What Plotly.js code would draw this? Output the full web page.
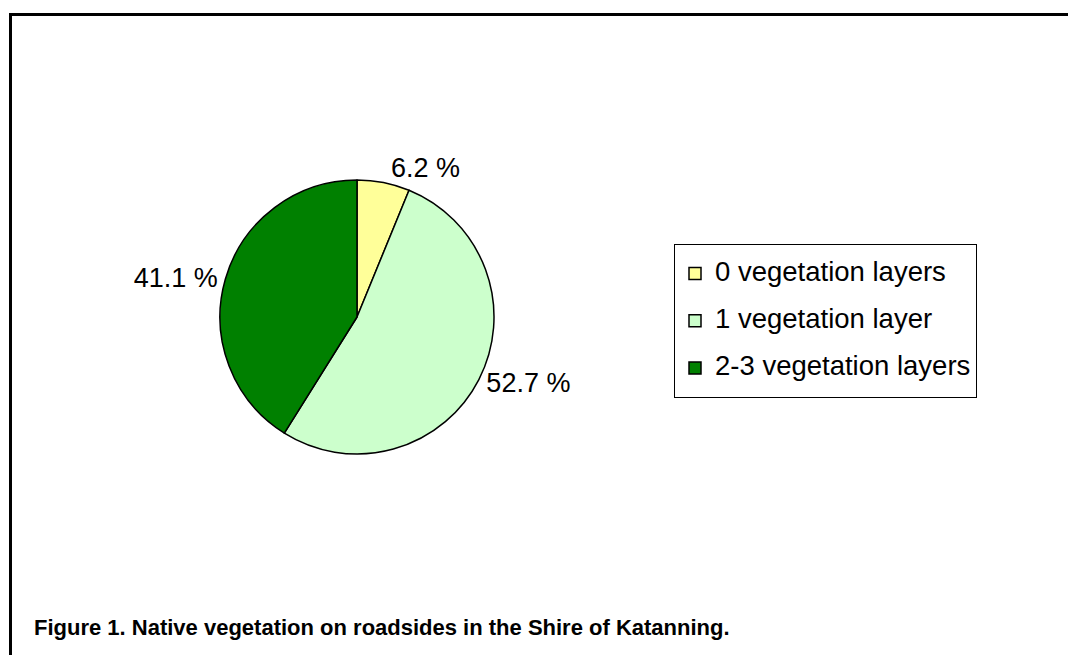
<!DOCTYPE html>
<html>
<head>
<meta charset="utf-8">
<script src="https://cdn.plot.ly/plotly-3.0.1.min.js"></script>
<style>html,body{margin:0;padding:0;background:#fff;}#chart{width:1068px;height:655px;}</style>
</head>
<body>
<div id="chart"></div>
<script>
const categories = ["0 vegetation layers", "1 vegetation layer", "2-3 vegetation layers"];
const shares = [6.2, 52.7, 41.1];
const colours = ["#FFFF99", "#CCFFCC", "#008000"];
const caption = "Figure 1. Native vegetation on roadsides in the Shire of Katanning.";

const W = 1068, H = 655;
const cx = 357, cy = 317, r = 137;

const trace = {
  type: "pie",
  labels: categories.map(c => '<span style="font-size:27.5px;baseline-shift:6px">' + c + '</span>'),
  values: shares,
  sort: false,
  direction: "clockwise",
  rotation: 0,
  marker: {colors: colours, line: {color: "#000", width: 1.5}},
  texttemplate: "%{value:.1f} %",
  textposition: "outside",
  textfont: {family: "Liberation Sans, Arial, sans-serif", size: 27, color: "#000"},
  hoverinfo: "none",
  domain: {x: [(cx - r) / W, (cx + r) / W], y: [(H - cy - r) / H, (H - cy + r) / H]}
};

const layout = {
  width: W, height: H,
  margin: {l: 0, r: 0, t: 0, b: 0},
  paper_bgcolor: "#fff",
  showlegend: true,
  legend: {
    x: 674 / W, y: 1 - 244 / H, xanchor: "left", yanchor: "top",
    bordercolor: "#000", borderwidth: 1, bgcolor: "#fff",
    font: {family: "Liberation Sans, Arial, sans-serif", size: 34, color: "#000"}
  },
  shapes: [{
    type: "rect", xref: "paper", yref: "paper",
    x0: 10.5 / W, x1: 1.2, y0: -0.2, y1: 1 - 14.5 / H,
    line: {color: "#000", width: 3}
  }],
  annotations: [{
    text: "<b>" + caption + "</b>",
    xref: "paper", yref: "paper", x: 32 / W, y: 1 - 642 / H,
    xanchor: "left", yanchor: "bottom", showarrow: false,
    font: {family: "Liberation Sans, Arial, sans-serif", size: 22, color: "#000"}
  }]
};

Plotly.newPlot("chart", [trace], layout, {staticPlot: true});
</script>
</body>
</html>
